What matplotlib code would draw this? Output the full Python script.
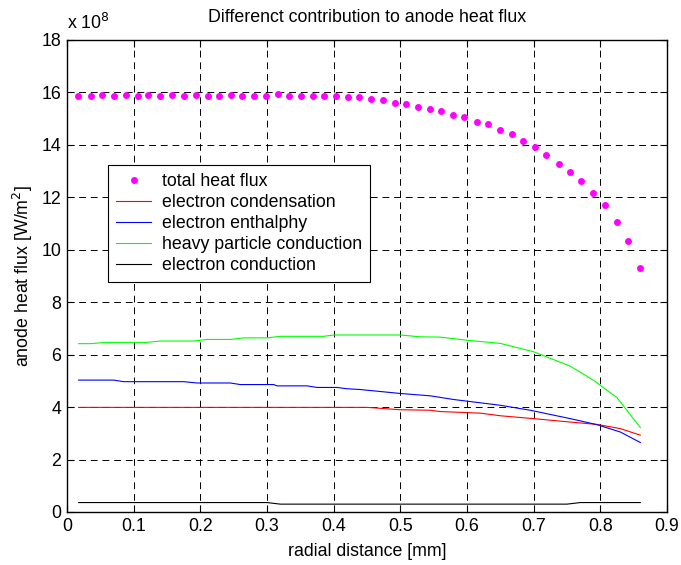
import matplotlib
matplotlib.use("Agg")
import matplotlib.pyplot as plt

plt.rcParams['font.family'] = ['Liberation Sans', 'DejaVu Sans']

# radial positions [mm] and fluxes in units of 1e8 W/m^2
r_total = [0.017, 0.0355, 0.052, 0.0705, 0.088, 0.106, 0.122, 0.1395, 0.158, 0.1755,
           0.1935, 0.211, 0.228, 0.246, 0.263, 0.2805, 0.298, 0.317, 0.3335, 0.3505,
           0.3685, 0.3855, 0.4035, 0.421, 0.438, 0.456, 0.4735, 0.4915, 0.508, 0.527,
           0.5445, 0.5605, 0.5795, 0.596, 0.6145, 0.631, 0.6495, 0.667, 0.6835, 0.702,
           0.7185, 0.7375, 0.754, 0.771, 0.7895, 0.8065, 0.825, 0.842, 0.86]
q_total = [15.88, 15.88, 15.89, 15.88, 15.89, 15.88, 15.89, 15.88, 15.89, 15.88,
           15.89, 15.88, 15.88, 15.89, 15.88, 15.88, 15.88, 15.93, 15.88, 15.88,
           15.88, 15.88, 15.88, 15.83, 15.83, 15.76, 15.71, 15.61, 15.56, 15.44,
           15.35, 15.29, 15.15, 15.05, 14.89, 14.78, 14.57, 14.42, 14.13, 13.93,
           13.60, 13.29, 12.97, 12.61, 12.18, 11.71, 11.06, 10.33, 9.31]

r_cond = [0.0175, 0.45, 0.5, 0.545, 0.56, 0.62, 0.65, 0.70, 0.755, 0.795, 0.83, 0.86]
q_cond = [3.99, 3.99, 3.90, 3.88, 3.83, 3.77, 3.67, 3.56, 3.43, 3.34, 3.18, 2.93]

r_enth = [0.0175, 0.07, 0.085, 0.175, 0.195, 0.245, 0.26, 0.31, 0.315, 0.36, 0.375,
          0.405, 0.42, 0.44, 0.50, 0.545, 0.58, 0.65, 0.695, 0.755, 0.795, 0.83, 0.86]
q_enth = [5.03, 5.03, 4.97, 4.97, 4.92, 4.92, 4.86, 4.86, 4.81, 4.81, 4.75,
          4.75, 4.70, 4.67, 4.52, 4.43, 4.29, 4.07, 3.88, 3.56, 3.33, 3.05, 2.65]

r_heavy = [0.0175, 0.035, 0.06, 0.12, 0.14, 0.19, 0.21, 0.245, 0.265, 0.30, 0.32, 0.385,
           0.40, 0.50, 0.53, 0.56, 0.60, 0.65, 0.70, 0.755, 0.79, 0.825, 0.86]
q_heavy = [6.42, 6.42, 6.47, 6.47, 6.52, 6.52, 6.58, 6.58, 6.64, 6.64, 6.70, 6.70,
           6.75, 6.75, 6.68, 6.67, 6.55, 6.43, 6.11, 5.56, 5.02, 4.36, 3.22]

r_econd = [0.0175, 0.30, 0.32, 0.75, 0.77, 0.86]
q_econd = [0.36, 0.36, 0.30, 0.30, 0.36, 0.36]

fs = 12.8

fig = plt.figure(figsize=(6.81, 5.65), dpi=100)
ax = fig.add_axes([67 / 681, 1 - 512 / 565, 600 / 681, 472 / 565])

ax.plot(r_total, q_total, 'o', color='#ff00ff', markersize=5, markeredgewidth=0,
        label='total heat flux')
ax.plot(r_cond, q_cond, color='#ff0000', lw=0.8, label='electron condensation')
ax.plot(r_enth, q_enth, color='#0000ff', lw=0.8, label='electron enthalphy')
ax.plot(r_heavy, q_heavy, color='#00ff00', lw=0.8, label='heavy particle conduction')
ax.plot(r_econd, q_econd, color='k', lw=0.8, label='electron conduction')

ax.set_xlim(0, 0.9)
ax.set_ylim(0, 18)
ax.set_xticks([0, 0.1, 0.2, 0.3, 0.4, 0.5, 0.6, 0.7, 0.8, 0.9])
ax.set_xticklabels(['0', '0.1', '0.2', '0.3', '0.4', '0.5', '0.6', '0.7', '0.8', '0.9'])
ax.set_yticks(range(0, 19, 2))
ax.tick_params(direction='in', top=True, right=True, length=5, width=0.8,
               labelsize=fs, pad=4)
for s in ax.spines.values():
    s.set_linewidth(1.0)
ax.grid(True, color='k', linestyle=(0, (7, 5)), linewidth=0.7)

ax.set_xlabel('radial distance [mm]', fontsize=fs, labelpad=6)
ax.set_ylabel('anode heat flux [W/m$^2$]', fontsize=fs, labelpad=5)
ax.set_title('Differenct contribution to anode heat flux', fontsize=fs, pad=13)
ax.text(0, 1.015, r'x 10$^8$', transform=ax.transAxes, fontsize=fs,
        ha='left', va='bottom')

leg = ax.legend(loc='upper left', bbox_to_anchor=(0.068, 0.735), fontsize=fs,
                fancybox=False, framealpha=1, edgecolor='k', borderpad=0.45,
                labelspacing=0.22, handlelength=2.0, handletextpad=0.6,
                borderaxespad=0)
leg.get_frame().set_linewidth(0.8)

fig.savefig('out.png', dpi=100)
